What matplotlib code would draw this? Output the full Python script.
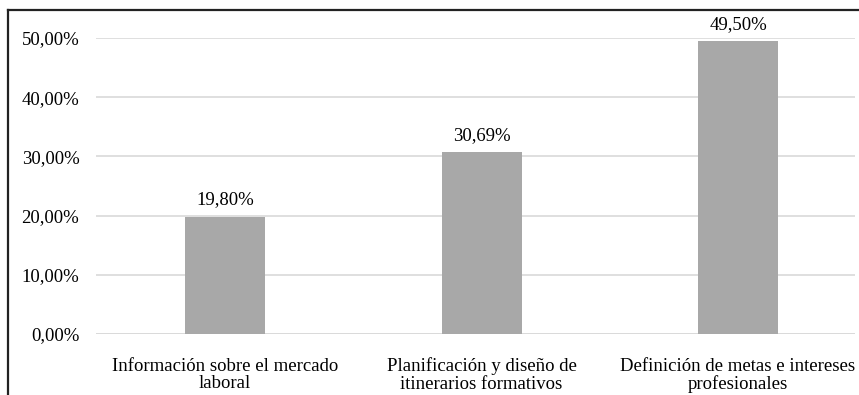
import matplotlib.pyplot as plt
from matplotlib.lines import Line2D

categorias = ["Información sobre el mercado\nlaboral",
              "Planificación y diseño de\nitinerarios formativos",
              "Definición de metas e intereses\nprofesionales"]
porcentajes = [19.80, 30.69, 49.50]
ticks_y = [0, 10, 20, 30, 40, 50]

plt.rcParams['font.family'] = ['Liberation Serif', 'DejaVu Serif']

W, H = 859, 395
fig = plt.figure(figsize=(W / 100, H / 100), dpi=100)
ax = fig.add_axes([96 / W, (H - 334) / H, (855 - 96) / W, (334 - 38) / H])

x = range(len(categorias))
ax.bar(x, porcentajes, width=0.312, color='#a8a8a8', zorder=2)

for xi, v in zip(x, porcentajes):
    ax.annotate(f"{v:.2f}%".replace('.', ','), (xi, v), xytext=(0, 6),
                textcoords='offset points', ha='center', va='bottom',
                fontsize=13.5, annotation_clip=False)

ax.set_xlim(-0.503, 2.456)
ax.set_ylim(0, 50)
ax.set_yticks(ticks_y)
ax.set_yticklabels([f"{t:.2f}%".replace('.', ',') for t in ticks_y], fontsize=13.5)
ax.set_xticks(list(x))
ax.set_xticklabels(categorias, fontsize=13.5, linespacing=1.05)
ax.tick_params(length=0)
ax.tick_params(axis='y', pad=12)
ax.tick_params(axis='x', pad=17)
ax.grid(axis='y', color='#d9d9d9', linewidth=1.2, zorder=0)
for s in ax.spines.values():
    s.set_visible(False)
ax.axhline(0, color='#d9d9d9', linewidth=1.2, zorder=1)

# marco del gráfico (sólo se ven los bordes superior e izquierdo)
fig.add_artist(Line2D([8 / W, 1], [(H - 10) / H] * 2, color='#222222', linewidth=1.6))
fig.add_artist(Line2D([8 / W] * 2, [0, (H - 10) / H], color='#222222', linewidth=1.6))

fig.savefig('out.png', dpi=100)
